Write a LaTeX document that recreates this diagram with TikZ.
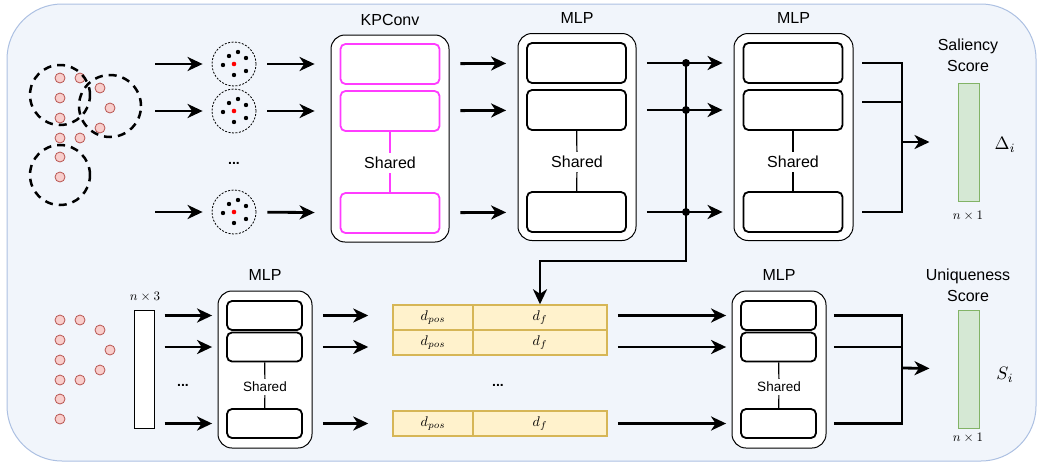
\documentclass[tikz,border=0pt]{standalone}
\usepackage{amsmath}
\usepackage{fontspec}
\setsansfont{Liberation Sans}
\usetikzlibrary{arrows.meta}

\definecolor{bgfill}{RGB}{241,245,251}
\definecolor{bgline}{RGB}{172,192,226}
\definecolor{kpink}{RGB}{255,60,255}
\definecolor{ptfill}{RGB}{248,206,204}
\definecolor{ptline}{RGB}{184,84,80}
\definecolor{yfill}{RGB}{255,242,204}
\definecolor{yline}{RGB}{214,182,86}
\definecolor{gfill}{RGB}{213,232,212}
\definecolor{gline}{RGB}{130,179,102}

% math set larger than the document size
\newcommand{\mth}[2]{\scalebox{#1}{$#2$}}

\tikzset{
  arr/.style={line width=2.8pt, -{Stealth[length=15pt,width=14pt,inset=4.5pt]},
    shorten <=20pt, shorten >=20pt},
  wire/.style={line width=2.8pt},
  outer/.style={draw, line width=1pt, rounded corners=14pt, fill=white},
  blk/.style={draw, line width=1.8pt, rounded corners=5pt, fill=white,
    minimum width=99pt, minimum height=40pt, inner sep=0pt},
  kpblk/.style={blk, draw=kpink},
  sblk/.style={blk, minimum width=75pt, minimum height=29pt},
  pt/.style={circle, draw=ptline, fill=ptfill, line width=0.8pt,
    minimum size=10pt, inner sep=0pt},
  nbhd/.style={circle, draw, line width=0.8pt, dash pattern=on 2pt off 1.5pt,
    minimum size=44pt, inner sep=0pt},
  jdot/.style={circle, fill, minimum size=8pt, inner sep=0pt},
  lbl/.style={font=\sffamily\fontsize{16}{21}\selectfont, align=center},
  slbl/.style={font=\sffamily\fontsize{13.5}{16}\selectfont, inner sep=3pt},
  dots/.style={font=\sffamily\bfseries\fontsize{14}{16}\selectfont},
  cellp/.style={draw=yline, fill=yfill, line width=1.5pt, minimum width=80pt,
    minimum height=25pt, inner sep=0pt},
  cellf/.style={cellp, minimum width=134pt},
  score/.style={draw=gline, fill=gfill, line width=1pt, minimum width=21pt,
    minimum height=118pt, inner sep=0pt},
}

\begin{document}
\begin{tikzpicture}[x=1pt,y=-1pt]
\useasboundingbox (0,0) rectangle (1038,466);
\draw[bgline, fill=bgfill, line width=1pt, rounded corners=55pt] (7,4) rectangle (1036,461);

% point cloud with neighbourhoods
\foreach \dx/\dy [count=\i] in {0/0,20/0,40/10,0/20,50/30,0/40,40/50,0/60,20/60,0/79,0/99}
  \node[pt] (pa\i) at (60+\dx,78+\dy) {};
\draw[line width=2.5pt, dash pattern=on 8pt off 6pt] (60,95) circle[radius=30pt];
\draw[line width=2.5pt, dash pattern=on 8pt off 6pt] (110,106) circle[radius=31pt];
\draw[line width=2.5pt, dash pattern=on 8pt off 6pt] (60,175) circle[radius=30pt];

% local patches
\node[nbhd] (c1) at (234,64) {};
\node[nbhd] (c2) at (234,111) {};
\node[nbhd] (c3) at (234,212) {};
\foreach \c in {c1,c2,c3} {
  \foreach \dx/\dy in {-5/-8,4/-12,-11/1,12/-6,12/7,0/11}
    \fill ([shift={(\dx,\dy)}]\c) circle[radius=2.2pt];
  \fill[red] (\c) circle[radius=2.3pt];
}
\node[dots] (cd) at (234,163) {...};

\coordinate (s1) at (155,64);
\coordinate (s2) at (155,111);
\coordinate (s3) at (155,212);
\draw[arr, shorten <=0pt, shorten >=9pt] (s1) -- (c1);
\draw[arr, shorten <=0pt, shorten >=9pt] (s2) -- (c2);
\draw[arr, shorten <=0pt, shorten >=9pt] (s3) -- (c3);

% KPConv
\node[outer, minimum width=118pt, minimum height=207pt] (kpo) at (390,138.5) {};
\node[lbl] (kpl) at (390,20) {KPConv};
\node[kpblk] (k1) at (390,64) {};
\node[kpblk] (k2) at (390,111) {};
\node[kpblk] (k3) at (390,213) {};
\node[lbl, inner sep=4pt] (ks) at (390,163) {Shared};
\draw[kpink, line width=1.5pt] (k2) -- (ks) (ks) -- (k3);
\draw[arr, shorten <=11pt, shorten >=25pt] (c1) -- (k1);
\draw[arr, shorten <=11pt, shorten >=25pt] (c2) -- (k2);
\draw[arr, shorten <=11pt, shorten >=25pt] (c3) -- (k3);

% first MLP
\node[outer, minimum width=118pt, minimum height=207pt] (mao) at (577,137) {};
\node[lbl] (mal) at (577,18) {MLP};
\node[blk] (ma1) at (576.5,63) {};
\node[blk] (ma2) at (576.5,110) {};
\node[blk] (ma3) at (576.5,212) {};
\node[lbl, inner sep=4pt] (mas) at (577,162) {Shared};
\draw[line width=1.2pt] (ma2) -- (mas) (mas) -- (ma3);
\draw[arr] (k1) -- (ma1);
\draw[arr] (k2) -- (ma2);
\draw[arr] (k3) -- (ma3);

% second MLP
\node[outer, minimum width=119pt, minimum height=207pt] (mbo) at (793.5,137) {};
\node[lbl] (mbl) at (793.5,18) {MLP};
\node[blk] (mb1) at (793,63) {};
\node[blk] (mb2) at (793,110) {};
\node[blk] (mb3) at (793,212) {};
\node[lbl, inner sep=4pt] (mbs) at (793,162) {Shared};
\draw[line width=1.2pt] (mb2) -- (mbs) (mbs) -- (mb3);
\draw[arr] (ma1) -- (mb1);
\draw[arr] (ma2) -- (mb2);
\draw[arr] (ma3) -- (mb3);

% saliency output
\node[score] (sal) at (968.5,142) {};
\node[lbl] (sall) at (968,55) {Saliency\\Score};
\node (saln) at (968,216) {\mth{1.3}{n\times 1}};
\node (dl) at (1005,145) {\mth{1.8}{\Delta_i}};
\coordinate (js) at (902,142);
\draw[wire, shorten <=19pt] (mb1) -| (js);
\draw[wire, shorten <=19pt] ([yshift=8pt]mb2.east) -| (js);
\draw[wire, shorten <=19pt] (mb3) -| (js);
\draw[arr, shorten <=0pt, shorten >=28pt] (js) -- (sal);

% lower branch: points
\foreach \dx/\dy [count=\i] in {0/0,20/0,40/10,0/20,50/30,0/40,40/50,0/60,20/60,0/79,0/99}
  \node[pt] (pb\i) at (60+\dx,320+\dy) {};
\node[draw, fill=white, line width=1pt, minimum width=20pt, minimum height=118pt,
  inner sep=0pt] (inp) at (144,369) {};
\node (inpn) at (145,297) {\mth{1.3}{n\times 3}};

% lower first MLP
\node[outer, minimum width=94pt, minimum height=157pt] (nao) at (265,369.5) {};
\node[lbl] (nal) at (265,275) {MLP};
\node[sblk] (na1) at (264.5,315.5) {};
\node[sblk] (na2) at (264.5,347) {};
\node[sblk] (na3) at (264.5,423.5) {};
\node[slbl] (nas) at (265,387) {Shared};
\draw[line width=1.2pt] (na2) -- (nas) (nas) -- (na3);
\node[dots] (nd) at (183,385) {...};
\draw[arr, shorten <=10pt, shorten >=14pt] (inp.east |- na1) -- (na1);
\draw[arr, shorten <=10pt, shorten >=14pt] (inp.east |- na2) -- (na2);
\draw[arr, shorten <=10pt, shorten >=14pt] (inp.east |- na3) -- (na3);

% concatenated features
\node[cellp] (tp1) at (433,317.5) {\mth{1.4}{d_{pos}}};
\node[cellf] (tf1) at (540,317.5) {\mth{1.4}{d_f}};
\node[cellp] (tp2) at (433,342.5) {\mth{1.4}{d_{pos}}};
\node[cellf] (tf2) at (540,342.5) {\mth{1.4}{d_f}};
\node[cellp] (tp3) at (433,423.5) {\mth{1.4}{d_{pos}}};
\node[cellf] (tf3) at (540,423.5) {\mth{1.4}{d_f}};
\node[dots] (td) at (498,385) {...};
\draw[arr, shorten >=24pt] (na1) -- (na1 -| tp1.west);
\draw[arr, shorten >=24pt] (na2) -- (na2 -| tp2.west);
\draw[arr, shorten >=24pt] (na3) -- (na3 -| tp3.west);

% skip from first MLP into d_f
\node[jdot] (j1) at (686,63) {};
\node[jdot] (j2) at (686,110) {};
\node[jdot] (j3) at (686,212) {};
\coordinate (jd) at (686,261);
\draw[arr, shorten <=0pt, shorten >=0pt] (j1.center) -- (jd) -| (tf1.north);

% lower second MLP
\node[outer, minimum width=94pt, minimum height=157pt] (nbo) at (779,369.5) {};
\node[lbl] (nbl) at (779,275) {MLP};
\node[sblk] (nb1) at (778.5,315.5) {};
\node[sblk] (nb2) at (778.5,347) {};
\node[sblk] (nb3) at (778.5,423.5) {};
\node[slbl] (nbs) at (779,387) {Shared};
\draw[line width=1.2pt] (nb2) -- (nbs) (nbs) -- (nb3);
\draw[arr, shorten <=10pt, shorten >=14pt] (tf1.east |- nb1) -- (nb1);
\draw[arr, shorten <=10pt, shorten >=14pt] (tf2.east |- nb2) -- (nb2);
\draw[arr, shorten <=10pt, shorten >=14pt] (tf3.east |- nb3) -- (nb3);

% uniqueness output
\node[score] (uni) at (968.5,369) {};
\node[lbl] (unil) at (968,285) {Uniqueness\\Score};
\node (unin) at (968,438) {\mth{1.3}{n\times 1}};
\node (sl) at (1005,375) {\mth{1.8}{S_i}};
\coordinate (ju) at (902,368);
\draw[wire, shorten <=17pt] (nb1) -| (ju);
\draw[wire, shorten <=17pt] (nb2) -| (ju);
\draw[wire, shorten <=17pt] (nb3) -| (ju);
\draw[arr, shorten <=0pt, shorten >=28pt] (ju) -- (uni);
\end{tikzpicture}
\end{document}
